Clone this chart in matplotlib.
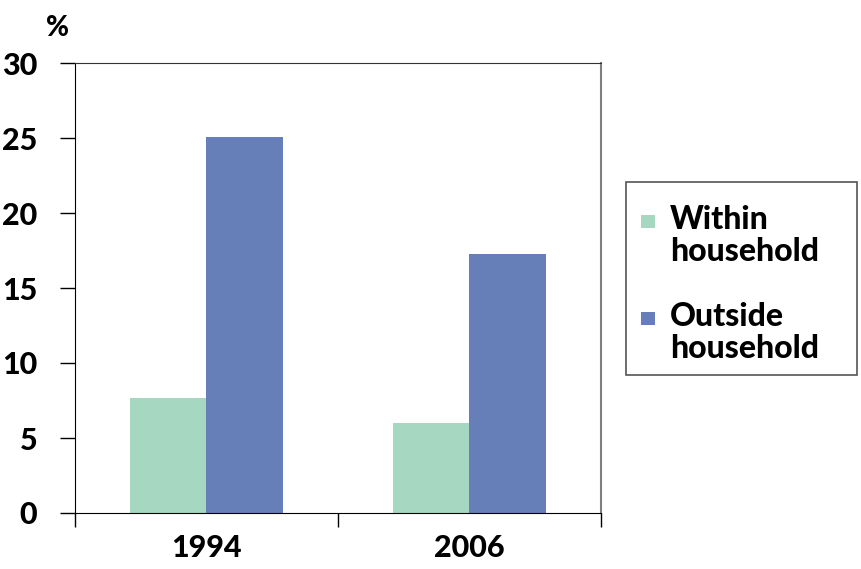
import matplotlib.pyplot as plt
from matplotlib.patches import Rectangle
import numpy as np

plt.rcParams['font.family'] = ['Lato', 'DejaVu Sans']

# datos
years = ["1994", "2006"]
within = [7.7, 6.0]
outside = [25.1, 17.3]
series_names = ["Within\nhousehold", "Outside\nhousehold"]
yticks = [0, 5, 10, 15, 20, 25, 30]

color_within = "#A6D8C1"
color_outside = "#667FB8"
peso = 'black'

fig = plt.figure(figsize=(8.62, 5.69), dpi=100)
ax = fig.add_axes([75/862, 56/569, 526/862, 450/569])

x = np.arange(len(years))
w = 0.29
b1 = ax.bar(x - w/2, within, w, color=color_within, zorder=2)
b2 = ax.bar(x + w/2, outside, w, color=color_outside, zorder=2)

ax.set_xlim(-0.5, 1.5)
ax.set_ylim(0, 30)
ax.set_yticks(yticks)
ax.set_yticklabels([str(t) for t in yticks], fontsize=22, fontweight=peso)
ax.tick_params(axis='y', length=11, width=1, pad=16, direction='out')

# ticks de categoria en los bordes, etiquetas en el centro
ax.set_xticks([-0.5, 0.5, 1.5])
ax.set_xticklabels([])
ax.tick_params(axis='x', which='major', length=10, width=1, direction='out')
ax.set_xticks(x, minor=True)
ax.set_xticklabels(years, minor=True, fontsize=22, fontweight=peso)
ax.tick_params(axis='x', which='minor', length=0, pad=15)

ax.spines['left'].set_color('black')
ax.spines['bottom'].set_color('black')
ax.spines['top'].set_color('#333333')
ax.spines['right'].set_color('#808080')
ax.spines['right'].set_linewidth(1.5)

fig.text(58/862, 1 - 28/569, "%", fontsize=20, fontweight=peso, ha='center', va='center')

# leyenda dibujada a mano (marcador alineado con la primera linea)
W, H = 862, 569
fig.patches.append(Rectangle((626/W, 1 - 375/H), 231/W, 193/H, transform=fig.transFigure,
                             facecolor='white', edgecolor='#555555', linewidth=1.2))
for nombre, col, ytop in [(series_names[0], color_within, 215), (series_names[1], color_outside, 312)]:
    fig.patches.append(Rectangle((641/W, 1 - (ytop + 13)/H), 14/W, 13/H,
                                 transform=fig.transFigure, facecolor=col, edgecolor='none'))
    fig.text(670/W, 1 - (ytop - 10)/H, nombre, fontsize=23, fontweight=peso,
             ha='left', va='top', linespacing=1.12)

fig.savefig("out.png", dpi=100)
